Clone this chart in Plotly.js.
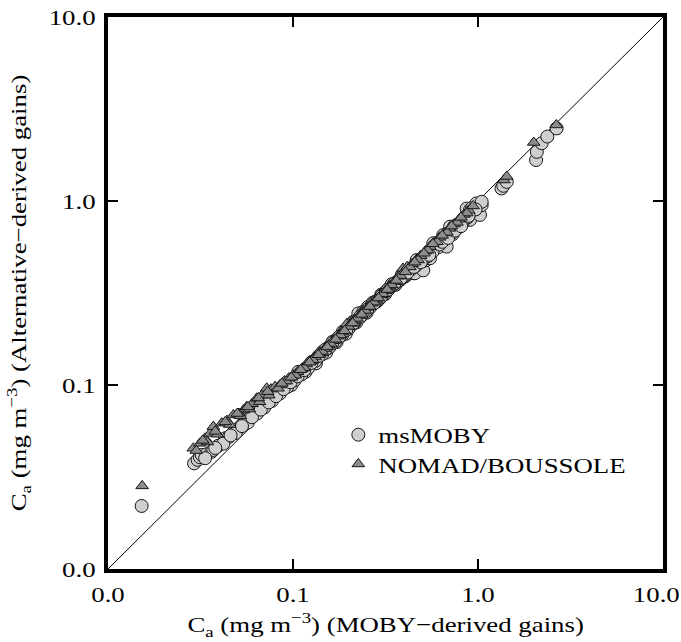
<!DOCTYPE html>
<html>
<head>
<meta charset="utf-8">
<script src="https://cdn.plot.ly/plotly-3.0.1.min.js"></script>
<style>html,body{margin:0;padding:0;background:#fff;}</style>
</head>
<body>
<div id="chart" style="width:681px;height:642px;"></div>
<script>
// Chlorophyll-a retrievals: MOBY-derived gains (x) vs alternative-derived gains (y), mg m^-3
const msMobyX = [
  0.0152, 0.0292, 0.0305, 0.0314, 0.0321, 0.0340, 0.0362, 0.0371, 0.0395, 0.0429,
  0.0450, 0.0478, 0.0500, 0.0528, 0.0555, 0.0585, 0.0615, 0.0650, 0.0685, 0.0720,
  0.0751, 0.0790, 0.0830, 0.0870, 0.0880, 0.0910, 0.0955, 0.0980, 0.1000, 0.1045,
  0.1070, 0.1090, 0.1140, 0.1170, 0.1190, 0.1245, 0.1270, 0.1300, 0.1330, 0.1360,
  0.1420, 0.1450, 0.1480, 0.1510, 0.1545, 0.1610, 0.1640, 0.1680, 0.1720, 0.1750,
  0.1830, 0.1860, 0.1910, 0.1930, 0.1990, 0.2080, 0.2110, 0.2170, 0.2200, 0.2255,
  0.2350, 0.2400, 0.2450, 0.2500, 0.2550, 0.2660, 0.2700, 0.2780, 0.2850, 0.2950,
  0.3000, 0.3080, 0.3150, 0.3210, 0.3350, 0.3420, 0.3500, 0.3580, 0.3650, 0.3790,
  0.3870, 0.3950, 0.4050, 0.4120, 0.4200, 0.4300, 0.4400, 0.4470, 0.4560, 0.4660,
  0.4800, 0.4860, 0.5060, 0.5200, 0.5250, 0.5390, 0.5500, 0.5600, 0.5730, 0.5860,
  0.6000, 0.6100, 0.6300, 0.6490, 0.6600, 0.6770, 0.7000, 0.7060, 0.7300, 0.7450,
  0.7600, 0.7900, 0.8000, 0.8320, 0.8500, 0.8680, 0.9050, 0.9060, 0.9300, 0.9500,
  0.9800, 1.0250, 1.0470, 1.0470, 1.3400, 1.3700, 1.4300, 2.0600, 2.0800, 2.2100,
  2.3700, 2.6600,
  0.0335, 0.0420, 0.0490, 0.0570, 0.0640, 0.0700, 0.0770, 0.0850, 0.0930, 0.1020,
  0.1110, 0.1210, 0.1320, 0.1440, 0.1570, 0.1700, 0.1840, 0.2000, 0.2150, 0.2320,
  0.2480, 0.2620, 0.2820, 0.3050, 0.3280, 0.3550, 0.3720, 0.4000, 0.4350, 0.4620,
  0.5000, 0.5330, 0.5680, 0.6200, 0.6700, 0.7200, 0.7750, 0.8250, 0.8800, 0.9700,
  0.0380, 0.0460, 0.0530, 0.0600, 0.0670, 0.0740, 0.0810, 0.0890, 0.0970, 0.1060,
  0.1150, 0.1260, 0.1380, 0.1500, 0.1630, 0.1780, 0.1940, 0.2120, 0.2300, 0.2520,
  0.2750, 0.2990, 0.3250, 0.3530, 0.3830, 0.4150, 0.4500, 0.4900, 0.5450, 0.6400,
  0.6900, 0.7500, 0.8100, 0.8900
];
const msMobyY = [
  0.0220, 0.0375, 0.0392, 0.0405, 0.0417, 0.0420, 0.0433, 0.0444, 0.0468, 0.0513,
  0.0522, 0.0552, 0.0575, 0.0606, 0.0628, 0.0662, 0.0690, 0.0731, 0.0755, 0.0792,
  0.0847, 0.0862, 0.0905, 0.0945, 0.0980, 0.0985, 0.1025, 0.1000, 0.1062, 0.1108,
  0.1180, 0.1150, 0.1195, 0.1180, 0.1240, 0.1300, 0.1340, 0.1345, 0.1310, 0.1410,
  0.1465, 0.1520, 0.1530, 0.1500, 0.1590, 0.1660, 0.1720, 0.1725, 0.1710, 0.1800,
  0.1880, 0.1950, 0.1960, 0.1900, 0.2040, 0.2130, 0.2200, 0.2220, 0.2190, 0.2450,
  0.2400, 0.2500, 0.2500, 0.2470, 0.2665, 0.2710, 0.2800, 0.2830, 0.2850, 0.2960,
  0.3100, 0.3120, 0.3120, 0.3250, 0.3400, 0.3530, 0.3520, 0.3500, 0.3640, 0.3720,
  0.3950, 0.3850, 0.3900, 0.3980, 0.4150, 0.4120, 0.4300, 0.4050, 0.4050, 0.4780,
  0.4500, 0.4680, 0.4200, 0.4750, 0.4900, 0.5200, 0.4880, 0.5300, 0.5890, 0.5770,
  0.5800, 0.5600, 0.5900, 0.6530, 0.6200, 0.5650, 0.6800, 0.7250, 0.6600, 0.7300,
  0.7000, 0.7400, 0.7600, 0.7720, 0.8100, 0.9100, 0.8940, 0.7900, 0.9200, 0.8800,
  0.9700, 0.8400, 0.9500, 0.9900, 1.1700, 1.2100, 1.2700, 1.6700, 1.8500, 2.0600,
  2.2400, 2.4800,
  0.0400, 0.0480, 0.0548, 0.0625, 0.0700, 0.0755, 0.0820, 0.0900, 0.0975, 0.1060,
  0.1140, 0.1240, 0.1350, 0.1470, 0.1600, 0.1730, 0.1870, 0.2030, 0.2180, 0.2350,
  0.2510, 0.2650, 0.2850, 0.3080, 0.3300, 0.3550, 0.3700, 0.3950, 0.4250, 0.4450,
  0.4750, 0.5000, 0.5300, 0.5800, 0.6250, 0.6700, 0.7200, 0.7600, 0.8150, 0.9000,
  0.0455, 0.0532, 0.0598, 0.0668, 0.0735, 0.0805, 0.0870, 0.0950, 0.1035, 0.1115,
  0.1205, 0.1320, 0.1440, 0.1560, 0.1690, 0.1830, 0.1990, 0.2170, 0.2340, 0.2570,
  0.2790, 0.3020, 0.3290, 0.3560, 0.3810, 0.4080, 0.4380, 0.4650, 0.5100, 0.6000,
  0.6300, 0.6900, 0.7300, 0.8300
];
const nomadX = [
  0.0153, 0.0289, 0.0314, 0.0335, 0.0356, 0.0371, 0.0412, 0.0440, 0.0476, 0.0510,
  0.0540, 0.0562, 0.0600, 0.0637, 0.0680, 0.0721, 0.0760, 0.0800, 0.0850, 0.0900,
  0.0950, 0.1000, 0.1060, 0.1120, 0.1180, 0.1250, 0.1320, 0.1400, 0.1480, 0.1560,
  0.1650, 0.1750, 0.1850, 0.1950, 0.2050, 0.2160, 0.2280, 0.2400, 0.2530, 0.2670,
  0.2820, 0.2980, 0.3150, 0.3330, 0.3520, 0.3720, 0.3930, 0.4150, 0.4400, 0.4650,
  0.4900, 0.5200, 0.5500, 0.5850, 0.6200, 0.6600, 0.7000, 0.7450, 0.7900, 0.8400,
  0.8900, 0.9400, 1.3800, 1.4300, 2.0000, 2.6500,
  0.0300, 0.0345, 0.0390, 0.0455, 0.0520, 0.0580, 0.0660, 0.0740, 0.0830, 0.0920,
  0.1030, 0.1150, 0.1280, 0.1440, 0.1600, 0.1800, 0.2000, 0.2220, 0.2460, 0.2740,
  0.3050, 0.3420, 0.3820, 0.4280, 0.4750, 0.5350, 0.6000, 0.6800, 0.7700, 0.8700,
  0.0325, 0.0380, 0.0430, 0.0500, 0.0570, 0.0650, 0.0730, 0.0870, 0.0980, 0.1100,
  0.1230, 0.1370, 0.1530, 0.1700, 0.1900, 0.2100, 0.2350, 0.2600, 0.2900, 0.3230,
  0.3620, 0.4050, 0.4550, 0.5100, 0.5700, 0.6400, 0.7200, 0.8100
];
const nomadY = [
  0.0283, 0.0453, 0.0482, 0.0513, 0.0546, 0.0594, 0.0620, 0.0640, 0.0687, 0.0700,
  0.0730, 0.0762, 0.0790, 0.0847, 0.0880, 0.0960, 0.0950, 0.0980, 0.1000, 0.1050,
  0.1090, 0.1130, 0.1180, 0.1230, 0.1300, 0.1350, 0.1420, 0.1500, 0.1570, 0.1650,
  0.1740, 0.1840, 0.1940, 0.2150, 0.2160, 0.2270, 0.2380, 0.2520, 0.2640, 0.2780,
  0.2930, 0.3080, 0.3250, 0.3450, 0.3650, 0.3900, 0.4300, 0.4400, 0.4550, 0.4800,
  0.5050, 0.5350, 0.5650, 0.6000, 0.6350, 0.6700, 0.7100, 0.7500, 0.7950, 0.8450,
  0.8900, 0.9400, 1.3000, 1.3600, 2.0800, 2.5900,
  0.0440, 0.0490, 0.0540, 0.0610, 0.0680, 0.0740, 0.0810, 0.0880, 0.0960, 0.1050,
  0.1130, 0.1240, 0.1370, 0.1520, 0.1680, 0.1870, 0.2080, 0.2300, 0.2540, 0.2820,
  0.3130, 0.3500, 0.3930, 0.4380, 0.4780, 0.5400, 0.6000, 0.6750, 0.7650, 0.8600,
  0.0500, 0.0560, 0.0630, 0.0700, 0.0760, 0.0850, 0.0920, 0.1020, 0.1100, 0.1210,
  0.1330, 0.1460, 0.1610, 0.1770, 0.1970, 0.2170, 0.2420, 0.2670, 0.2970, 0.3300,
  0.3700, 0.4120, 0.4650, 0.5200, 0.5850, 0.6500, 0.7300, 0.8150
];
// 1:1 reference line
const oneToOne = [0.01, 10];
// axis ticks
const tickVals = [0.01, 0.1, 1, 10];
const tickText = ['0.0', '0.1', '1.0', '10.0'];

const serif = 'Liberation Serif';
const textWiden = 1.22;   // the lettering is set wide

const traces = [
  {
    x: oneToOne, y: oneToOne, mode: 'lines', type: 'scatter',
    line: {color: '#000', width: 1}, showlegend: false, hoverinfo: 'skip'
  },
  {
    x: msMobyX, y: msMobyY, mode: 'markers', type: 'scatter', name: 'msMOBY',
    legend: 'legend',
    marker: {symbol: 'circle', size: 13, color: '#cfcfcf', line: {color: '#161616', width: 1}}
  },
  {
    x: nomadX, y: nomadY, mode: 'markers', type: 'scatter', name: 'NOMAD/BOUSSOLE',
    legend: 'legend2',
    marker: {symbol: 'triangle-up', size: 11, color: '#8c8c8c', line: {color: '#161616', width: 1}}
  }
];

const axisBase = {
  type: 'log', range: [-2, 1],
  tickvals: tickVals,
  ticks: 'inside', ticklen: 10, tickwidth: 1.5, tickcolor: '#000',
  showline: true, linewidth: 4, linecolor: '#000', mirror: 'allticks',
  showgrid: false, zeroline: false, ticklabeloverflow: 'allow',
  tickfont: {family: serif, size: 22, color: '#000'}
};

const legendBase = {
  x: 0.415, xanchor: 'left', yanchor: 'top',
  bgcolor: 'rgba(0,0,0,0)', borderwidth: 0,
  font: {family: serif, size: 22, color: '#000'}
};

const layout = {
  width: 681, height: 642,
  font: {family: serif},
  margin: {l: 108, r: 18, t: 17, b: 73},
  paper_bgcolor: '#fff', plot_bgcolor: '#fff',
  xaxis: Object.assign({}, axisBase, {
    ticktext: ['0.0', '0.1', '1.0', '10.0\u00a0\u00a0'], ticklabelstandoff: 3
  }),
  yaxis: Object.assign({}, axisBase, {ticktext: tickText, ticklabelstandoff: 4}),
  showlegend: true,
  legend: Object.assign({}, legendBase, {y: 0.281}),
  legend2: Object.assign({}, legendBase, {y: 0.228}),
  annotations: [
    {
      xref: 'paper', yref: 'paper', x: 0.5, y: -0.1,
      xanchor: 'center', yanchor: 'middle', showarrow: false,
      text: 'C<sub>a</sub> (mg m<sup>−3</sup>) (MOBY−derived gains)',
      font: {family: serif, size: 22, color: '#000'}
    },
    {
      xref: 'paper', yref: 'paper', x: -0.162, y: 0.5,
      xanchor: 'center', yanchor: 'middle', showarrow: false, textangle: -90,
      text: 'C<sub>a</sub> (mg m<sup>−3</sup>) (Alternative−derived gains)',
      font: {family: serif, size: 22, color: '#000'}
    }
  ]
};

// stretch every label horizontally about its own anchor point
function widenLabels(gd, factor) {
  gd.querySelectorAll('svg text').forEach(function (t) {
    if (!t.textContent || !t.textContent.trim()) return;
    const ax = parseFloat(t.getAttribute('x')) || 0;
    const prev = t.getAttribute('transform') || '';
    t.setAttribute('transform',
      prev + ' translate(' + ax + ',0) scale(' + factor + ',1) translate(' + (-ax) + ',0)');
  });
  // let the wider legend labels run past the legend box
  gd.querySelectorAll('.legend [clip-path], .legend2 [clip-path]').forEach(function (el) {
    el.removeAttribute('clip-path');
  });
  gd.querySelectorAll('g.legend [clip-path]').forEach(function (el) {
    el.removeAttribute('clip-path');
  });
}

Plotly.newPlot('chart', traces, layout, {displayModeBar: false, staticPlot: true})
  .then(function (gd) { widenLabels(gd, textWiden); });
</script>
</body>
</html>
